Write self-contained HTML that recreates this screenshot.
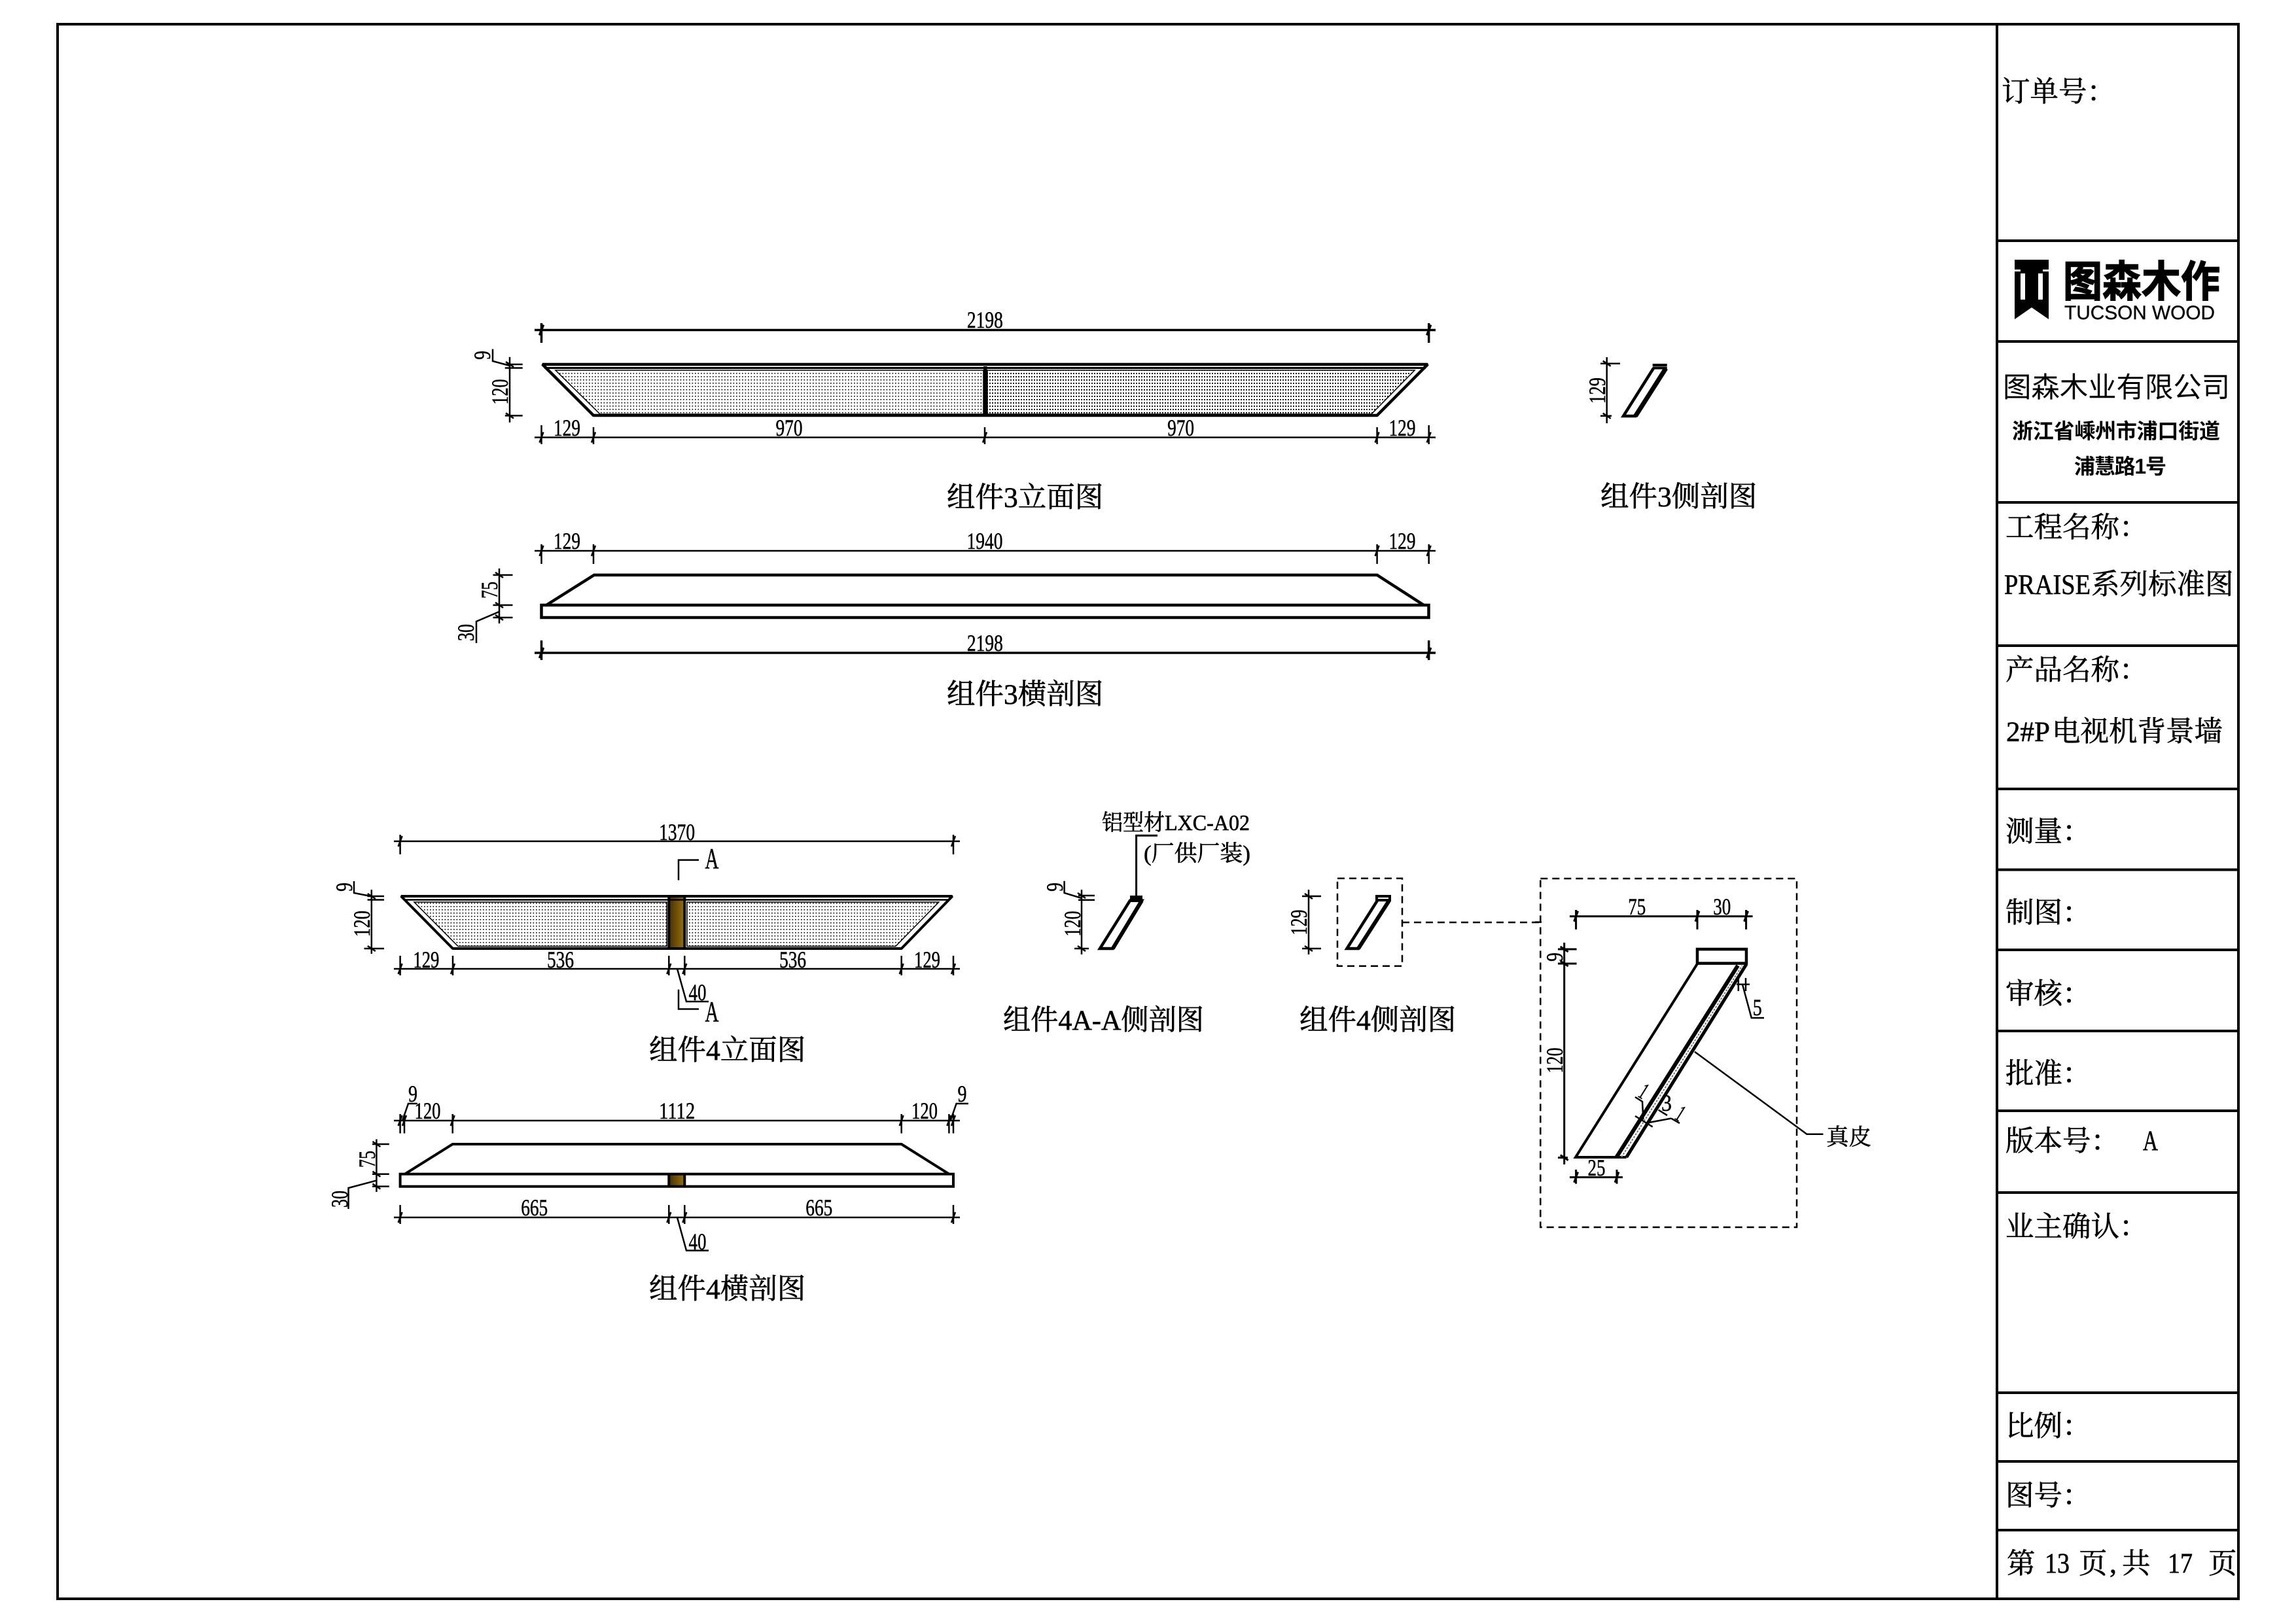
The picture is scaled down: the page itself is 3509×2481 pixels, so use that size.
<!DOCTYPE html>
<html><head><meta charset="utf-8"><style>
html,body{margin:0;padding:0;background:#fff}
svg{display:block}
text{fill:#000;stroke:#000;stroke-width:.6;font-family:"Liberation Serif","Noto Serif CJK SC",serif}
.d{font-size:36px;text-anchor:middle;stroke-width:.5}
.t{font-size:43.5px}
.s{font-family:"Liberation Sans","Noto Sans CJK SC",sans-serif;stroke-width:0}
</style></head><body>
<svg xmlns="http://www.w3.org/2000/svg" width="3509" height="2481" viewBox="0 0 3509 2481">
<defs>
<pattern id="p1" width="4.5" height="5" patternUnits="userSpaceOnUse"><rect width="1.7" height="1.5" fill="#000"/></pattern>
<pattern id="p2" width="4" height="5" patternUnits="userSpaceOnUse"><rect width="2" height="1.8" fill="#000"/></pattern>
<linearGradient id="br" x1="0" x2="1" y1="0" y2="0"><stop offset="0" stop-color="#4a3200"/><stop offset="1" stop-color="#96700f"/></linearGradient>
<path id="h" d="M-3 8L3-8"/>
<path id="v" d="M-6-4L6 4"/>
</defs>
<rect width="3509" height="2481" fill="#fff"/>

<!-- frame and sidebar -->
<g fill="none" stroke="#000" stroke-width="4">
<rect x="88" y="37" width="3333" height="2407"/>
<path d="M3052 37V2444M3052 368H3421M3052 522H3421M3052 768H3421M3052 987H3421M3052 1206H3421M3052 1329.5H3421M3052 1452H3421M3052 1576H3421M3052 1698H3421M3052 1823H3421M3052 2129H3421M3052 2234H3421M3052 2339H3421"/>
</g>

<!-- logo -->
<path d="M3079 397H3131V488L3105 470L3079 488Z" fill="#000"/>
<path d="M3088 418H3095V458H3088ZM3115 418H3122V458H3115ZM3079 412H3088V415H3079ZM3122 412H3131V415H3122Z" fill="#fff"/>
<text class="s" x="3153" y="453" font-size="65" font-weight="700" textLength="240" lengthAdjust="spacingAndGlyphs" style="stroke-width:1.5">图森木作</text>
<text class="s" x="3155" y="488" font-size="30" textLength="230" lengthAdjust="spacingAndGlyphs" style="stroke-width:.4">TUCSON WOOD</text>
<text class="s" x="3061" y="607" font-size="43.4">图森木业有限公司</text>
<text class="s" x="3075" y="670" font-size="32" font-weight="700" textLength="318">浙江省嵊州市浦口街道</text>
<text class="s" x="3170" y="724" font-size="32" font-weight="700" textLength="141">浦慧路1号</text>

<!-- sidebar labels -->
<text class="t" x="3059" y="155">订单号：</text>
<text class="t" x="3065" y="821">工程名称：</text>
<text class="t" x="3063" y="908" textLength="132" lengthAdjust="spacingAndGlyphs">PRAISE</text>
<text class="t" x="3196" y="908">系列标准图</text>
<text class="t" x="3065" y="1039">产品名称：</text>
<text class="t" x="3066" y="1133" textLength="67" lengthAdjust="spacingAndGlyphs">2#P</text>
<text class="t" x="3136" y="1133">电视机背景墙</text>
<text class="t" x="3065" y="1286">测量：</text>
<text class="t" x="3065" y="1410">制图：</text>
<text class="t" x="3065" y="1534">审核：</text>
<text class="t" x="3065" y="1656">批准：</text>
<text class="t" x="3065" y="1759">版本号：</text>
<text class="t" x="3275" y="1758" textLength="23" lengthAdjust="spacingAndGlyphs">A</text>
<text class="t" x="3065" y="1890">业主确认：</text>
<text class="t" x="3065" y="2195">比例：</text>
<text class="t" x="3065" y="2301">图号：</text>
<text class="t" x="3067" y="2405">第</text>
<text class="t" x="3125" y="2404" textLength="38" lengthAdjust="spacingAndGlyphs">13</text>
<text class="t" x="3177" y="2405">页</text>
<text class="t" x="3224" y="2404">,</text>
<text class="t" x="3243" y="2405">共</text>
<text class="t" x="3313" y="2404" textLength="38" lengthAdjust="spacingAndGlyphs">17</text>
<text class="t" x="3375" y="2405">页</text>

<!-- component 3 elevation -->
<path d="M849 566H1503V633H917Z" fill="url(#p1)" stroke="#000" stroke-width="1.5"/>
<path d="M1509 566H2162L2096 633H1509Z" fill="url(#p2)" stroke="#000" stroke-width="1.5"/>
<g fill="none" stroke="#000">
<path d="M829 557H2182L2104.6 635H907Z" stroke-width="4.5" stroke-linejoin="bevel"/>
<path d="M832 562.5H2179" stroke-width="3"/>
<path d="M1505.8 560V635" stroke-width="5.5"/>
<!-- component 3 dims -->
<g stroke-width="3.5">
<path d="M817 504.5H2194M827.5 494V524M2183.7 494V524"/>
<use href="#h" x="827.5" y="504.5"/><use href="#h" x="2183.7" y="504.5"/>
<path d="M817 998H2194M827.5 979V1009M2183.7 979V1009"/>
<use href="#h" x="827.5" y="998"/><use href="#h" x="2183.7" y="998"/>
</g>
<g stroke-width="2.5">
<path d="M817 668.6H2194M827.5 650V679M907 653V679M1505 653V679M2104.6 653V679M2183.7 650V679"/>
<use href="#h" x="827.5" y="668.6"/><use href="#h" x="907" y="668.6"/><use href="#h" x="1505" y="668.6"/><use href="#h" x="2104.6" y="668.6"/><use href="#h" x="2183.7" y="668.6"/>
<path d="M817 842H2194M827.5 832V862M907 832V862M2104.6 832V862M2183.7 832V862"/>
<use href="#h" x="827.5" y="842"/><use href="#h" x="907" y="842"/><use href="#h" x="2104.6" y="842"/><use href="#h" x="2183.7" y="842"/>
<path d="M779 545.7V645.7M771.8 557H798.7M771.8 562.5H798.7M771.8 635.4H798.7"/>
<use href="#v" x="779" y="557"/><use href="#v" x="779" y="635.4"/>
<path d="M779 559L753 552V533.6"/>
<path d="M763 869V953M753.5 879H783.5M753.5 925H783.5M753.5 944H783.5"/>
<use href="#v" x="763" y="879"/><use href="#v" x="763" y="925"/><use href="#v" x="763" y="944"/>
<path d="M763 935L728 950V983"/>
<!-- side 3 dim -->
<path d="M2455.7 546V647M2446 555.7H2476M2446 635.7H2463"/>
<use href="#v" x="2455.7" y="555.7"/><use href="#v" x="2455.7" y="635.7"/>
</g>
<!-- component 3 section -->
<path d="M835 925L908 879H2104.6L2176 925" stroke-width="4.5"/>
<rect x="827.5" y="925" width="1356" height="19" stroke-width="4.5"/>
<!-- side 3 -->
<path d="M2527 563L2481 636H2499.5L2546 563" stroke-width="4.5"/>
<path d="M2546 563L2499.5 636" stroke-width="7"/>
<path d="M2525.7 558H2547.7M2525.7 562.5H2547.7" stroke-width="4"/>
</g>
<text class="d" x="1505.4" y="501" textLength="55" lengthAdjust="spacingAndGlyphs">2198</text>
<text class="d" x="866.5" y="666" textLength="41" lengthAdjust="spacingAndGlyphs">129</text>
<text class="d" x="1206" y="666" textLength="41" lengthAdjust="spacingAndGlyphs">970</text>
<text class="d" x="1804.6" y="666" textLength="41" lengthAdjust="spacingAndGlyphs">970</text>
<text class="d" x="2143" y="666" textLength="41" lengthAdjust="spacingAndGlyphs">129</text>
<text class="d" x="866.5" y="839" textLength="41" lengthAdjust="spacingAndGlyphs">129</text>
<text class="d" x="1505" y="839" textLength="55" lengthAdjust="spacingAndGlyphs">1940</text>
<text class="d" x="2143" y="839" textLength="41" lengthAdjust="spacingAndGlyphs">129</text>
<text class="d" x="1505.4" y="995" textLength="55" lengthAdjust="spacingAndGlyphs">2198</text>
<text class="d" transform="translate(776,599) rotate(-90)" textLength="39" lengthAdjust="spacingAndGlyphs">120</text>
<text class="d" transform="translate(749,543) rotate(-90)" textLength="13.7" lengthAdjust="spacingAndGlyphs">9</text>
<text class="d" transform="translate(760,902) rotate(-90)" textLength="26" lengthAdjust="spacingAndGlyphs">75</text>
<text class="d" transform="translate(724,967) rotate(-90)" textLength="26" lengthAdjust="spacingAndGlyphs">30</text>
<text class="d" transform="translate(2453,597) rotate(-90)" textLength="40" lengthAdjust="spacingAndGlyphs">129</text>
<text class="t" x="1447" y="775">组件3立面图</text>
<text class="t" x="1447" y="1076">组件3横剖图</text>
<text class="t" x="2446" y="774">组件3侧剖图</text>

<!-- component 4 elevation -->
<path d="M633 1379H1019V1446.5H700Z" fill="url(#p1)" stroke="#000" stroke-width="1.5"/>
<path d="M1050 1379H1434.8L1368.8 1446.5H1050Z" fill="url(#p1)" stroke="#000" stroke-width="1.5"/>
<rect x="1023" y="1370" width="23" height="80" fill="url(#br)"/>
<g fill="none" stroke="#000">
<path d="M613 1370H1455.5L1377.7 1450H692Z" stroke-width="4" stroke-linejoin="bevel"/>
<path d="M617 1375.5H1451" stroke-width="2.5"/>
<path d="M1022.3 1370V1450M1046.3 1370V1450" stroke-width="4"/>
<g stroke-width="2.5">
<path d="M602 1286H1467M611.6 1276V1306M1457 1276V1306"/>
<use href="#h" x="611.6" y="1286"/><use href="#h" x="1457" y="1286"/>
<path d="M1037 1345.5V1314.6H1068M1037 1512.6V1542.5H1068"/>
<path d="M602 1481H1467M611.6 1461V1491M692 1461V1491M1022.3 1461V1491M1046.3 1461V1491M1377.7 1461V1491M1457 1461V1491"/>
<use href="#h" x="611.6" y="1481"/><use href="#h" x="692" y="1481"/><use href="#h" x="1022.3" y="1481"/><use href="#h" x="1046.3" y="1481"/><use href="#h" x="1377.7" y="1481"/><use href="#h" x="1457" y="1481"/>
<path d="M1035 1481L1049 1531H1083"/>
<path d="M567.8 1360V1458M561.6 1370H587M561.6 1375.5H587M556.5 1450H587"/>
<use href="#v" x="567.8" y="1370"/><use href="#v" x="567.8" y="1450"/>
<path d="M566.7 1370L541 1365V1347"/>
<!-- section 4 top dim -->
<path d="M602 1713H1467M611.6 1703V1732.5M618 1703V1732.5M691.7 1703V1732.5M1377.7 1703V1732.5M1450.4 1703V1732.5M1457 1703V1732.5"/>
<use href="#h" x="611.6" y="1713"/><use href="#h" x="618" y="1713"/><use href="#h" x="691.7" y="1713"/><use href="#h" x="1377.7" y="1713"/><use href="#h" x="1450.4" y="1713"/><use href="#h" x="1457" y="1713"/>
<path d="M615 1713L624 1687H638M1452.7 1713L1461.6 1687H1480"/>
<path d="M575.4 1741.5V1822M569 1749H594.8M569 1794.7H594.8M569 1813.6H594.8"/>
<use href="#v" x="575.4" y="1749"/><use href="#v" x="575.4" y="1794.7"/><use href="#v" x="575.4" y="1813.6"/>
<path d="M575 1804.7L532.5 1816V1848"/>
<path d="M602 1861H1467M611.6 1842V1871M1022.3 1842V1871M1046.3 1842V1871M1457 1842V1871"/>
<use href="#h" x="611.6" y="1861"/><use href="#h" x="1022.3" y="1861"/><use href="#h" x="1046.3" y="1861"/><use href="#h" x="1457" y="1861"/>
<path d="M1035 1861L1049 1911.6H1083"/>
</g>
</g>
<rect x="1023" y="1795" width="23" height="19" fill="url(#br)"/>
<g fill="none" stroke="#000" stroke-width="4">
<path d="M618.8 1794.7L691.7 1749H1377.7L1450.4 1794.7"/>
<rect x="611.6" y="1794.7" width="845.4" height="19"/>
<path d="M1022.3 1794.7V1813.6M1046.3 1794.7V1813.6"/>
</g>
<text class="d" x="1034.6" y="1284" textLength="55" lengthAdjust="spacingAndGlyphs">1370</text>
<text class="d" x="1088" y="1327" textLength="21" lengthAdjust="spacingAndGlyphs" style="font-size:44px">A</text>
<text class="d" x="1088" y="1561" textLength="21" lengthAdjust="spacingAndGlyphs" style="font-size:44px">A</text>
<text class="d" x="651.4" y="1479" textLength="40" lengthAdjust="spacingAndGlyphs">129</text>
<text class="d" x="856.5" y="1479" textLength="41" lengthAdjust="spacingAndGlyphs">536</text>
<text class="d" x="1211.6" y="1479" textLength="41" lengthAdjust="spacingAndGlyphs">536</text>
<text class="d" x="1417" y="1479" textLength="40" lengthAdjust="spacingAndGlyphs">129</text>
<text class="d" x="1066" y="1529" textLength="27" lengthAdjust="spacingAndGlyphs">40</text>
<text class="d" x="1066" y="1910" textLength="27" lengthAdjust="spacingAndGlyphs">40</text>
<text class="d" x="631" y="1684" textLength="14" lengthAdjust="spacingAndGlyphs">9</text>
<text class="d" x="1470.5" y="1684" textLength="14" lengthAdjust="spacingAndGlyphs">9</text>
<text class="d" x="653.5" y="1710" textLength="40" lengthAdjust="spacingAndGlyphs">120</text>
<text class="d" x="1034.6" y="1710" textLength="55" lengthAdjust="spacingAndGlyphs">1112</text>
<text class="d" x="1413" y="1710" textLength="40" lengthAdjust="spacingAndGlyphs">120</text>
<text class="d" x="816.7" y="1858" textLength="41" lengthAdjust="spacingAndGlyphs">665</text>
<text class="d" x="1251.8" y="1858" textLength="41" lengthAdjust="spacingAndGlyphs">665</text>
<text class="d" transform="translate(565,1412) rotate(-90)" textLength="40" lengthAdjust="spacingAndGlyphs">120</text>
<text class="d" transform="translate(538,1356) rotate(-90)" textLength="13.7" lengthAdjust="spacingAndGlyphs">9</text>
<text class="d" transform="translate(573,1772) rotate(-90)" textLength="26" lengthAdjust="spacingAndGlyphs">75</text>
<text class="d" transform="translate(531,1833) rotate(-90)" textLength="26" lengthAdjust="spacingAndGlyphs">30</text>
<text class="t" x="992" y="1620">组件4立面图</text>
<text class="t" x="992" y="1985">组件4横剖图</text>

<!-- A-A side -->
<path d="M1727 1369H1746V1376H1727Z" fill="#000"/>
<g fill="none" stroke="#000">
<path d="M1727 1376.7H1745L1700.7 1450H1681Z" stroke-width="4.5"/>
<path d="M1745 1376.7L1700.7 1450" stroke-width="6"/>
<path d="M1769 1277.3H1736.6V1369" stroke-width="3"/>
<g stroke-width="2.5">
<path d="M1653 1360V1459M1648 1369H1673M1648 1375.7H1673M1642 1450H1664"/>
<use href="#v" x="1653" y="1369"/><use href="#v" x="1653" y="1450"/>
<path d="M1653 1373L1626.6 1365V1346.7"/>
</g>
<!-- side 4 -->
<g stroke-width="2.5">
<path d="M2000 1360V1459M1990 1370H2019M1990 1450H2019"/>
<use href="#v" x="2000" y="1370"/><use href="#v" x="2000" y="1450"/>
</g>
<path d="M2104 1370H2124V1376H2104Z" stroke-width="4"/>
<path d="M2105 1376.7L2058.5 1450H2076L2123 1376.7" stroke-width="4.5"/>
<path d="M2123 1376.7L2076 1450" stroke-width="6"/>
<g stroke-width="2.5" stroke-dasharray="11 7">
<rect x="2044" y="1342.7" width="99" height="134"/>
<path d="M2143 1410H2354"/>
<rect x="2354.3" y="1343" width="391.7" height="533"/>
</g>
<path d="M2346 1409.6H2356" stroke-width="2.5"/>
<!-- detail -->
<g stroke-width="3">
<path d="M2399 1400.7H2678.6M2408.6 1391V1420.7M2594 1391V1420.7M2668.6 1391V1420.7"/>
<use href="#h" x="2408.6" y="1400.7"/><use href="#h" x="2594" y="1400.7"/><use href="#h" x="2668.6" y="1400.7"/>
<path d="M2390.7 1441V1780M2381 1451H2409.6M2381 1473H2409.6M2381 1769.6H2396"/>
<use href="#v" x="2390.7" y="1451"/><use href="#v" x="2390.7" y="1473"/><use href="#v" x="2390.7" y="1769.6"/>
<path d="M2399 1799.6H2480M2408.6 1788V1809.6M2471 1788V1809.6"/>
<use href="#h" x="2408.6" y="1799.6"/><use href="#h" x="2471" y="1799.6"/>
</g>
<rect x="2594" y="1451" width="75" height="21.6" stroke-width="4.5"/>
<path d="M2594 1473.3L2408 1769H2485.7" stroke-width="4"/>
<path d="M2470.4 1769L2656 1476" stroke-width="6"/>
<path d="M2478 1769L2662.5 1476" stroke-width="2" stroke="#777" stroke-dasharray="3 2"/>
<path d="M2485.7 1769L2669 1474" stroke-width="5"/>
<g stroke-width="2.5">
<path d="M2654 1504.8H2674M2656.8 1495V1515M2668 1495V1515M2663 1504.8L2676.8 1556H2696"/>
<path d="M2590 1607.8L2761.4 1733.7H2786.4"/>
<path d="M2499 1706L2525.7 1722.6M2534.6 1696.7L2548 1705M2499 1677L2510 1684L2511.4 1711.5M2554 1709.6L2520 1716M2554 1709.6L2567 1717"/>
</g>
</g>
<text class="t" x="1684" y="1269" style="font-size:34px" textLength="226" lengthAdjust="spacingAndGlyphs">铝型材LXC-A02</text>
<text class="t" x="1748" y="1316" style="font-size:34px" textLength="163" lengthAdjust="spacingAndGlyphs">(厂供厂装)</text>
<text class="d" transform="translate(1651,1412) rotate(-90)" textLength="39" lengthAdjust="spacingAndGlyphs">120</text>
<text class="d" transform="translate(1624,1356) rotate(-90)" textLength="13.7" lengthAdjust="spacingAndGlyphs">9</text>
<text class="d" transform="translate(1997,1410) rotate(-90)" textLength="39" lengthAdjust="spacingAndGlyphs">129</text>
<text class="t" x="1533" y="1574" textLength="307" lengthAdjust="spacingAndGlyphs">组件4A-A侧剖图</text>
<text class="t" x="1986" y="1574">组件4侧剖图</text>
<text class="d" x="2501.8" y="1398" textLength="27" lengthAdjust="spacingAndGlyphs">75</text>
<text class="d" x="2631.8" y="1398" textLength="27" lengthAdjust="spacingAndGlyphs">30</text>
<text class="d" x="2440" y="1797" textLength="27" lengthAdjust="spacingAndGlyphs">25</text>
<text class="d" x="2685.7" y="1552" textLength="14" lengthAdjust="spacingAndGlyphs">5</text>
<text class="d" x="2547" y="1698" textLength="16" lengthAdjust="spacingAndGlyphs">3</text>
<text class="d" transform="translate(2506,1678) rotate(32)" textLength="10" lengthAdjust="spacingAndGlyphs">1</text>
<text class="d" transform="translate(2562,1712) rotate(32)" textLength="10" lengthAdjust="spacingAndGlyphs">1</text>
<text class="d" transform="translate(2388,1463) rotate(-90)" textLength="13.7" lengthAdjust="spacingAndGlyphs">9</text>
<text class="d" transform="translate(2388,1621) rotate(-90)" textLength="39" lengthAdjust="spacingAndGlyphs">120</text>
<text x="2791" y="1750" style="font-size:34.5px">真皮</text>
</svg>
</body></html>
